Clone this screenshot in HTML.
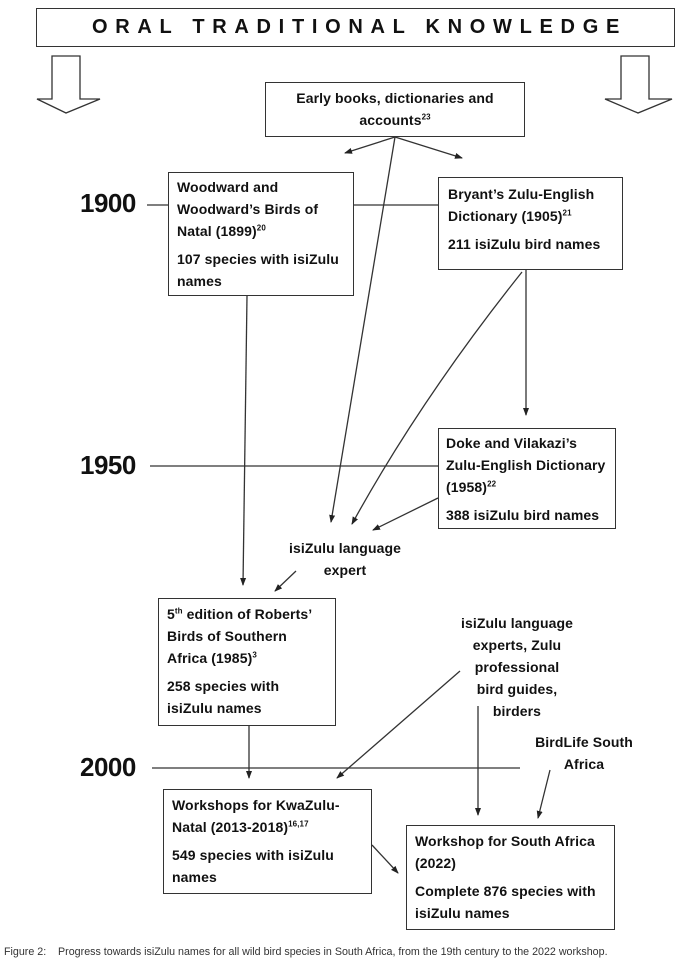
<!DOCTYPE html>
<html><head><meta charset="utf-8"><style>
body{margin:0;width:682px;height:965px;background:#fff;position:relative;overflow:hidden;font-family:"Liberation Sans",sans-serif;color:#111}
.b{position:absolute;border:1.5px solid #333;box-sizing:border-box;background:#fff}
.t{position:absolute;font-weight:bold;font-size:14px;line-height:22px;letter-spacing:0.1px;white-space:nowrap}
sup{font-size:8px;line-height:0}
.yr{position:absolute;font-weight:bold;font-size:26px;letter-spacing:-0.5px}
svg{position:absolute;left:0;top:0}
</style></head><body>
<svg width="682" height="965">
<defs><marker id="a" markerWidth="8" markerHeight="8" refX="7" refY="4" orient="auto" markerUnits="userSpaceOnUse"><path d="M0,1 L8,4 L0,7z" fill="#222"/></marker></defs>
<g stroke="#333" stroke-width="1.3" fill="none">
<path d="M52,56 H80 V99 H100 L66,113 L37,99 H52 Z" fill="#fff"/>
<path d="M621,56 H649 V99 H672 L638,113 L605,99 H621 Z" fill="#fff"/>
<line x1="147" y1="205" x2="168" y2="205"/>
<line x1="354" y1="205" x2="442" y2="205"/>
<line x1="150" y1="466" x2="438" y2="466"/>
<line x1="152" y1="768" x2="520" y2="768"/>
<line x1="395" y1="137" x2="345" y2="153" marker-end="url(#a)"/>
<line x1="395" y1="137" x2="462" y2="158" marker-end="url(#a)"/>
<line x1="395" y1="137" x2="331" y2="522" marker-end="url(#a)"/>
<line x1="526" y1="270" x2="526" y2="415" marker-end="url(#a)"/>
<path d="M522,272 Q420,400 352,524" marker-end="url(#a)"/>
<line x1="438" y1="498" x2="373" y2="530" marker-end="url(#a)"/>
<line x1="247" y1="296" x2="243" y2="585" marker-end="url(#a)"/>
<line x1="296" y1="571" x2="275" y2="591" marker-end="url(#a)"/>
<line x1="249" y1="726" x2="249" y2="778" marker-end="url(#a)"/>
<line x1="460" y1="671" x2="337" y2="778" marker-end="url(#a)"/>
<line x1="478" y1="706" x2="478" y2="815" marker-end="url(#a)"/>
<line x1="550" y1="770" x2="538" y2="818" marker-end="url(#a)"/>
<line x1="372" y1="845" x2="398" y2="873" marker-end="url(#a)"/>
</g></svg>
<div class="b" style="left:36px;top:8px;width:639px;height:39px;text-align:center;font-weight:bold;font-size:20px;letter-spacing:7.7px;line-height:37px;padding-left:8px">ORAL TRADITIONAL KNOWLEDGE</div>
<div class="b" style="left:265px;top:82px;width:260px;height:55px"></div>
<div class="t" style="left:265px;top:87px;width:260px;text-align:center">Early books, dictionaries and<br>accounts<sup>23</sup></div>
<div class="b" style="left:168px;top:172px;width:186px;height:124px"></div>
<div class="t" style="left:177px;top:176px">Woodward and<br>Woodward’s Birds of<br>Natal (1899)<sup>20</sup><br><span style="display:block;margin-top:6px">107 species with isiZulu<br>names</span></div>
<div class="b" style="left:438px;top:177px;width:185px;height:93px"></div>
<div class="t" style="left:448px;top:183px">Bryant’s Zulu-English<br>Dictionary (1905)<sup>21</sup><br><span style="display:block;margin-top:6px">211 isiZulu bird names</span></div>
<div class="b" style="left:438px;top:428px;width:178px;height:101px"></div>
<div class="t" style="left:446px;top:432px">Doke and Vilakazi’s<br>Zulu-English Dictionary<br>(1958)<sup>22</sup><br><span style="display:block;margin-top:6px">388 isiZulu bird names</span></div>
<div class="t" style="left:275px;top:537px;width:140px;text-align:center">isiZulu language<br>expert</div>
<div class="b" style="left:158px;top:598px;width:178px;height:128px"></div>
<div class="t" style="left:167px;top:603px">5<sup>th</sup> edition of Roberts’<br>Birds of Southern<br>Africa (1985)<sup>3</sup><br><span style="display:block;margin-top:6px">258 species with<br>isiZulu names</span></div>
<div class="t" style="left:442px;top:612px;width:150px;text-align:center">isiZulu language<br>experts, Zulu<br>professional<br>bird guides,<br>birders</div>
<div class="t" style="left:524px;top:731px;width:120px;text-align:center">BirdLife South<br>Africa</div>
<div class="b" style="left:163px;top:789px;width:209px;height:105px"></div>
<div class="t" style="left:172px;top:794px">Workshops for KwaZulu-<br>Natal (2013-2018)<sup>16,17</sup><br><span style="display:block;margin-top:6px">549 species with isiZulu<br>names</span></div>
<div class="b" style="left:406px;top:825px;width:209px;height:105px"></div>
<div class="t" style="left:415px;top:830px">Workshop for South Africa<br>(2022)<br><span style="display:block;margin-top:6px">Complete 876 species with<br>isiZulu names</span></div>
<div class="yr" style="left:80px;top:188px">1900</div>
<div class="yr" style="left:80px;top:450px">1950</div>
<div class="yr" style="left:80px;top:752px">2000</div>
<div style="position:absolute;left:4px;top:946px;font-size:10.7px;color:#333;white-space:nowrap">Figure 2:&nbsp;&nbsp;&nbsp;&nbsp;Progress towards isiZulu names for all wild bird species in South Africa, from the 19th century to the 2022 workshop.</div>
</body></html>
